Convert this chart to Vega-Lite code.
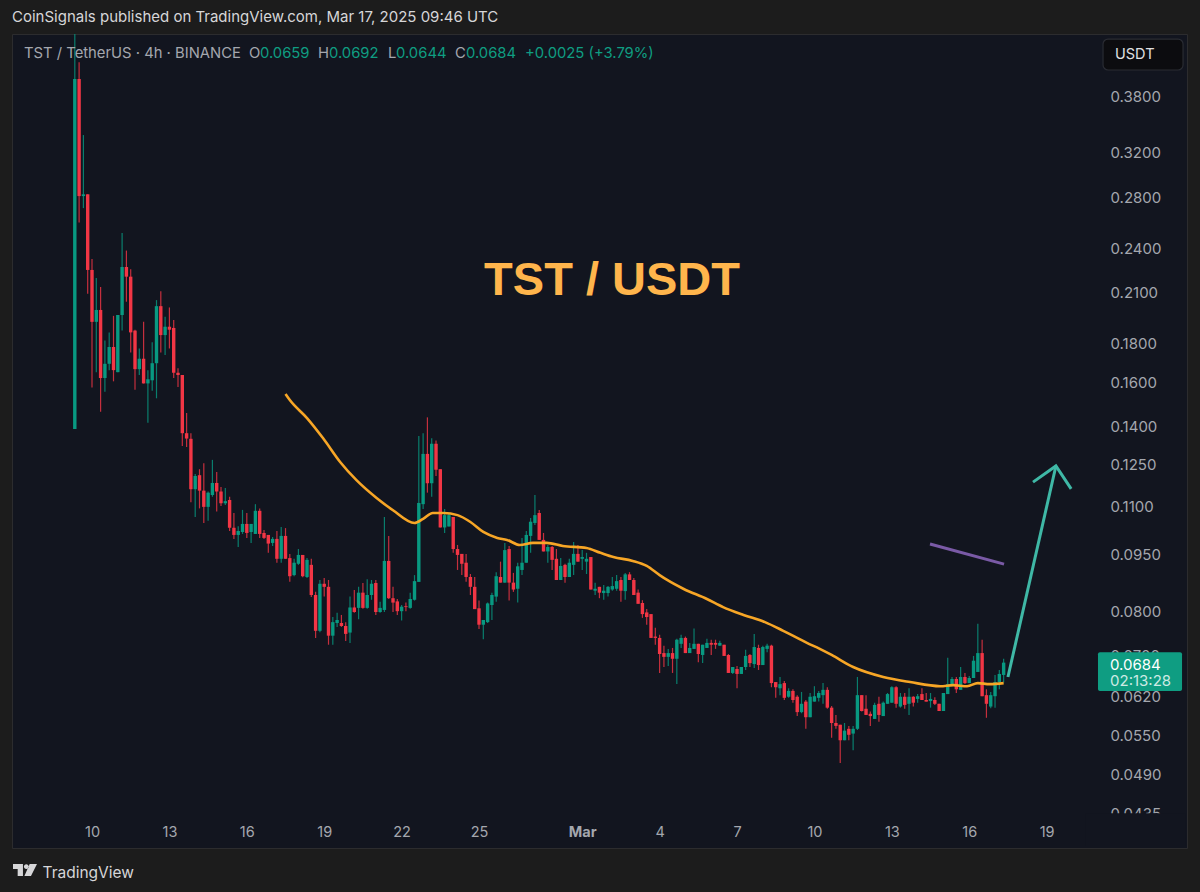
{
"$schema":"https://vega.github.io/schema/vega-lite/v6.json",
"width":1175,"height":814,
"autosize":{"type":"none"},
"padding":{"left":12,"top":34,"right":13,"bottom":44},
"background":"#1c1c1c",
"view":{"fill":"#12151f","stroke":"#2c2c2e"},
"config":{"font":"Inter"},
"title":{"text":"CoinSignals published on TradingView.com, Mar 17, 2025 09:46 UTC","anchor":"start","frame":"group","dx":0,"offset":8,"fontSize":15,"fontWeight":"normal","color":"#d6d6d8","font":"Inter"},
"datasets":{
"candles":[
{"t":"2025-02-09T08:00Z","o":0.1385,"h":0.4570,"l":0.1385,"c":0.3988},
{"t":"2025-02-09T12:00Z","o":0.3988,"h":0.4195,"l":0.2585,"c":0.2800},
{"t":"2025-02-09T16:00Z","o":0.2800,"h":0.3367,"l":0.2700,"c":0.2815},
{"t":"2025-02-09T20:00Z","o":0.2815,"h":0.2815,"l":0.2085,"c":0.2240},
{"t":"2025-02-10T00:00Z","o":0.2240,"h":0.2315,"l":0.1570,"c":0.1915},
{"t":"2025-02-10T04:00Z","o":0.1915,"h":0.2187,"l":0.1645,"c":0.1985},
{"t":"2025-02-10T08:00Z","o":0.1985,"h":0.2128,"l":0.1460,"c":0.1616},
{"t":"2025-02-10T12:00Z","o":0.1616,"h":0.1810,"l":0.1550,"c":0.1687},
{"t":"2025-02-10T16:00Z","o":0.1687,"h":0.1855,"l":0.1655,"c":0.1775},
{"t":"2025-02-10T20:00Z","o":0.1775,"h":0.1950,"l":0.1600,"c":0.1655},
{"t":"2025-02-11T00:00Z","o":0.1645,"h":0.1955,"l":0.1645,"c":0.1955},
{"t":"2025-02-11T04:00Z","o":0.1955,"h":0.2505,"l":0.1865,"c":0.2260},
{"t":"2025-02-11T08:00Z","o":0.2260,"h":0.2375,"l":0.2035,"c":0.2195},
{"t":"2025-02-11T12:00Z","o":0.2195,"h":0.2245,"l":0.1745,"c":0.1855},
{"t":"2025-02-11T16:00Z","o":0.1865,"h":0.1870,"l":0.1560,"c":0.1660},
{"t":"2025-02-11T20:00Z","o":0.1660,"h":0.1767,"l":0.1631,"c":0.1713},
{"t":"2025-02-12T00:00Z","o":0.1713,"h":0.1915,"l":0.1590,"c":0.1590},
{"t":"2025-02-12T04:00Z","o":0.1590,"h":0.1655,"l":0.1412,"c":0.1610},
{"t":"2025-02-12T08:00Z","o":0.1605,"h":0.1800,"l":0.1555,"c":0.1690},
{"t":"2025-02-12T12:00Z","o":0.1690,"h":0.2045,"l":0.1520,"c":0.2008},
{"t":"2025-02-12T16:00Z","o":0.2008,"h":0.2100,"l":0.1745,"c":0.1840},
{"t":"2025-02-12T20:00Z","o":0.1840,"h":0.1945,"l":0.1732,"c":0.1887},
{"t":"2025-02-13T00:00Z","o":0.1887,"h":0.2000,"l":0.1767,"c":0.1870},
{"t":"2025-02-13T04:00Z","o":0.1880,"h":0.1925,"l":0.1616,"c":0.1642},
{"t":"2025-02-13T08:00Z","o":0.1642,"h":0.1665,"l":0.1573,"c":0.1631},
{"t":"2025-02-13T12:00Z","o":0.1631,"h":0.1631,"l":0.1316,"c":0.1368},
{"t":"2025-02-13T16:00Z","o":0.1368,"h":0.1454,"l":0.1312,"c":0.1346},
{"t":"2025-02-13T20:00Z","o":0.1345,"h":0.1368,"l":0.1110,"c":0.1155},
{"t":"2025-02-14T00:00Z","o":0.1155,"h":0.1209,"l":0.1062,"c":0.1202},
{"t":"2025-02-14T04:00Z","o":0.1205,"h":0.1227,"l":0.1090,"c":0.1150},
{"t":"2025-02-14T08:00Z","o":0.1150,"h":0.1249,"l":0.1043,"c":0.1095},
{"t":"2025-02-14T12:00Z","o":0.1095,"h":0.1147,"l":0.1050,"c":0.1143},
{"t":"2025-02-14T16:00Z","o":0.1135,"h":0.1262,"l":0.1129,"c":0.1177},
{"t":"2025-02-14T20:00Z","o":0.1177,"h":0.1217,"l":0.1080,"c":0.1147},
{"t":"2025-02-15T00:00Z","o":0.1147,"h":0.1163,"l":0.1098,"c":0.1107},
{"t":"2025-02-15T04:00Z","o":0.1107,"h":0.1159,"l":0.1101,"c":0.1114},
{"t":"2025-02-15T08:00Z","o":0.1118,"h":0.1129,"l":0.1018,"c":0.1028},
{"t":"2025-02-15T12:00Z","o":0.1028,"h":0.1075,"l":0.0994,"c":0.1006},
{"t":"2025-02-15T16:00Z","o":0.1006,"h":0.1033,"l":0.0970,"c":0.1018},
{"t":"2025-02-15T20:00Z","o":0.1015,"h":0.1085,"l":0.1009,"c":0.1040},
{"t":"2025-02-16T00:00Z","o":0.1040,"h":0.1075,"l":0.0997,"c":0.1012},
{"t":"2025-02-16T04:00Z","o":0.1015,"h":0.1040,"l":0.0982,"c":0.1040},
{"t":"2025-02-16T08:00Z","o":0.1009,"h":0.1104,"l":0.1009,"c":0.1082},
{"t":"2025-02-16T12:00Z","o":0.1082,"h":0.1090,"l":0.0997,"c":0.1009},
{"t":"2025-02-16T16:00Z","o":0.1012,"h":0.1021,"l":0.0994,"c":0.0997},
{"t":"2025-02-16T20:00Z","o":0.1006,"h":0.1006,"l":0.0953,"c":0.0980},
{"t":"2025-02-17T00:00Z","o":0.0982,"h":0.1000,"l":0.0973,"c":0.0994},
{"t":"2025-02-17T04:00Z","o":0.0994,"h":0.1018,"l":0.0925,"c":0.0936},
{"t":"2025-02-17T08:00Z","o":0.0936,"h":0.1030,"l":0.0925,"c":0.1003},
{"t":"2025-02-17T12:00Z","o":0.1003,"h":0.1027,"l":0.0936,"c":0.0936},
{"t":"2025-02-17T16:00Z","o":0.0938,"h":0.0950,"l":0.0873,"c":0.0888},
{"t":"2025-02-17T20:00Z","o":0.0891,"h":0.0936,"l":0.0888,"c":0.0925},
{"t":"2025-02-18T00:00Z","o":0.0922,"h":0.0964,"l":0.0919,"c":0.0947},
{"t":"2025-02-18T04:00Z","o":0.0947,"h":0.0947,"l":0.0885,"c":0.0888},
{"t":"2025-02-18T08:00Z","o":0.0886,"h":0.0938,"l":0.0883,"c":0.0933},
{"t":"2025-02-18T12:00Z","o":0.0919,"h":0.0936,"l":0.0834,"c":0.0839},
{"t":"2025-02-18T16:00Z","o":0.0839,"h":0.0847,"l":0.0737,"c":0.0753},
{"t":"2025-02-18T20:00Z","o":0.0753,"h":0.0878,"l":0.0750,"c":0.0868},
{"t":"2025-02-19T00:00Z","o":0.0868,"h":0.0883,"l":0.0835,"c":0.0860},
{"t":"2025-02-19T04:00Z","o":0.0860,"h":0.0878,"l":0.0722,"c":0.0742},
{"t":"2025-02-19T08:00Z","o":0.0742,"h":0.0785,"l":0.0722,"c":0.0773},
{"t":"2025-02-19T12:00Z","o":0.0771,"h":0.0795,"l":0.0762,"c":0.0778},
{"t":"2025-02-19T16:00Z","o":0.0771,"h":0.0790,"l":0.0762,"c":0.0764},
{"t":"2025-02-19T20:00Z","o":0.0764,"h":0.0773,"l":0.0730,"c":0.0746},
{"t":"2025-02-20T00:00Z","o":0.0749,"h":0.0835,"l":0.0726,"c":0.0808},
{"t":"2025-02-20T04:00Z","o":0.0808,"h":0.0852,"l":0.0795,"c":0.0797},
{"t":"2025-02-20T08:00Z","o":0.0807,"h":0.0860,"l":0.0780,"c":0.0845},
{"t":"2025-02-20T12:00Z","o":0.0845,"h":0.0870,"l":0.0805,"c":0.0807},
{"t":"2025-02-20T16:00Z","o":0.0807,"h":0.0880,"l":0.0805,"c":0.0839},
{"t":"2025-02-20T20:00Z","o":0.0839,"h":0.0878,"l":0.0827,"c":0.0868},
{"t":"2025-02-21T00:00Z","o":0.0870,"h":0.0878,"l":0.0790,"c":0.0797},
{"t":"2025-02-21T04:00Z","o":0.0797,"h":0.0822,"l":0.0795,"c":0.0807},
{"t":"2025-02-21T08:00Z","o":0.0802,"h":0.1062,"l":0.0797,"c":0.0930},
{"t":"2025-02-21T12:00Z","o":0.0930,"h":0.1003,"l":0.0829,"c":0.0831},
{"t":"2025-02-21T16:00Z","o":0.0831,"h":0.0860,"l":0.0797,"c":0.0820},
{"t":"2025-02-21T20:00Z","o":0.0823,"h":0.0829,"l":0.0790,"c":0.0799},
{"t":"2025-02-22T00:00Z","o":0.0799,"h":0.0814,"l":0.0777,"c":0.0810},
{"t":"2025-02-22T04:00Z","o":0.0811,"h":0.0820,"l":0.0799,"c":0.0809},
{"t":"2025-02-22T08:00Z","o":0.0807,"h":0.0845,"l":0.0805,"c":0.0829},
{"t":"2025-02-22T12:00Z","o":0.0827,"h":0.0891,"l":0.0825,"c":0.0875},
{"t":"2025-02-22T16:00Z","o":0.0873,"h":0.1356,"l":0.0873,"c":0.1108},
{"t":"2025-02-22T20:00Z","o":0.1104,"h":0.1368,"l":0.1088,"c":0.1285},
{"t":"2025-02-23T00:00Z","o":0.1285,"h":0.1435,"l":0.1143,"c":0.1176},
{"t":"2025-02-23T04:00Z","o":0.1176,"h":0.1347,"l":0.1129,"c":0.1325},
{"t":"2025-02-23T08:00Z","o":0.1325,"h":0.1338,"l":0.1202,"c":0.1225},
{"t":"2025-02-23T12:00Z","o":0.1227,"h":0.1227,"l":0.1029,"c":0.1029},
{"t":"2025-02-23T16:00Z","o":0.1029,"h":0.1088,"l":0.1012,"c":0.1068},
{"t":"2025-02-23T20:00Z","o":0.1032,"h":0.1075,"l":0.1032,"c":0.1068},
{"t":"2025-02-24T00:00Z","o":0.1062,"h":0.1062,"l":0.0953,"c":0.0964},
{"t":"2025-02-24T04:00Z","o":0.0964,"h":0.0976,"l":0.0905,"c":0.0947},
{"t":"2025-02-24T08:00Z","o":0.0950,"h":0.0950,"l":0.0891,"c":0.0922},
{"t":"2025-02-24T12:00Z","o":0.0925,"h":0.0950,"l":0.0873,"c":0.0886},
{"t":"2025-02-24T16:00Z","o":0.0886,"h":0.0894,"l":0.0839,"c":0.0860},
{"t":"2025-02-24T20:00Z","o":0.0860,"h":0.0886,"l":0.0804,"c":0.0804},
{"t":"2025-02-25T00:00Z","o":0.0806,"h":0.0825,"l":0.0757,"c":0.0767},
{"t":"2025-02-25T04:00Z","o":0.0767,"h":0.0778,"l":0.0734,"c":0.0778},
{"t":"2025-02-25T08:00Z","o":0.0773,"h":0.0820,"l":0.0771,"c":0.0818},
{"t":"2025-02-25T12:00Z","o":0.0814,"h":0.0845,"l":0.0778,"c":0.0839},
{"t":"2025-02-25T16:00Z","o":0.0835,"h":0.0899,"l":0.0822,"c":0.0888},
{"t":"2025-02-25T20:00Z","o":0.0886,"h":0.0928,"l":0.0871,"c":0.0871},
{"t":"2025-02-26T00:00Z","o":0.0871,"h":0.0982,"l":0.0871,"c":0.0961},
{"t":"2025-02-26T04:00Z","o":0.0964,"h":0.0973,"l":0.0825,"c":0.0871},
{"t":"2025-02-26T08:00Z","o":0.0871,"h":0.0897,"l":0.0847,"c":0.0853},
{"t":"2025-02-26T12:00Z","o":0.0855,"h":0.0925,"l":0.0820,"c":0.0915},
{"t":"2025-02-26T16:00Z","o":0.0905,"h":0.0997,"l":0.0891,"c":0.0925},
{"t":"2025-02-26T20:00Z","o":0.0925,"h":0.1018,"l":0.0925,"c":0.1006},
{"t":"2025-02-27T00:00Z","o":0.1003,"h":0.1059,"l":0.0953,"c":0.1047},
{"t":"2025-02-27T04:00Z","o":0.1043,"h":0.1135,"l":0.1037,"c":0.1068},
{"t":"2025-02-27T08:00Z","o":0.1075,"h":0.1085,"l":0.0991,"c":0.0991},
{"t":"2025-02-27T12:00Z","o":0.0991,"h":0.1012,"l":0.0957,"c":0.0957},
{"t":"2025-02-27T16:00Z","o":0.0957,"h":0.0976,"l":0.0925,"c":0.0970},
{"t":"2025-02-27T20:00Z","o":0.0970,"h":0.0973,"l":0.0905,"c":0.0933},
{"t":"2025-02-28T00:00Z","o":0.0936,"h":0.0964,"l":0.0878,"c":0.0878},
{"t":"2025-02-28T04:00Z","o":0.0878,"h":0.0938,"l":0.0878,"c":0.0916},
{"t":"2025-02-28T08:00Z","o":0.0919,"h":0.0922,"l":0.0871,"c":0.0886},
{"t":"2025-02-28T12:00Z","o":0.0886,"h":0.0936,"l":0.0886,"c":0.0925},
{"t":"2025-02-28T16:00Z","o":0.0919,"h":0.0985,"l":0.0891,"c":0.0950},
{"t":"2025-02-28T20:00Z","o":0.0950,"h":0.0976,"l":0.0928,"c":0.0928},
{"t":"2025-03-01T00:00Z","o":0.0936,"h":0.0961,"l":0.0905,"c":0.0941},
{"t":"2025-03-01T04:00Z","o":0.0928,"h":0.0953,"l":0.0894,"c":0.0936},
{"t":"2025-03-01T08:00Z","o":0.0941,"h":0.0941,"l":0.0853,"c":0.0853},
{"t":"2025-03-01T12:00Z","o":0.0850,"h":0.0871,"l":0.0839,"c":0.0855},
{"t":"2025-03-01T16:00Z","o":0.0860,"h":0.0860,"l":0.0831,"c":0.0845},
{"t":"2025-03-01T20:00Z","o":0.0844,"h":0.0865,"l":0.0827,"c":0.0850},
{"t":"2025-03-02T00:00Z","o":0.0844,"h":0.0862,"l":0.0835,"c":0.0860},
{"t":"2025-03-02T04:00Z","o":0.0853,"h":0.0886,"l":0.0850,"c":0.0862},
{"t":"2025-03-02T08:00Z","o":0.0855,"h":0.0891,"l":0.0850,"c":0.0875},
{"t":"2025-03-02T12:00Z","o":0.0878,"h":0.0886,"l":0.0822,"c":0.0850},
{"t":"2025-03-02T16:00Z","o":0.0849,"h":0.0897,"l":0.0827,"c":0.0893},
{"t":"2025-03-02T20:00Z","o":0.0893,"h":0.0899,"l":0.0878,"c":0.0878},
{"t":"2025-03-03T00:00Z","o":0.0878,"h":0.0883,"l":0.0839,"c":0.0839},
{"t":"2025-03-03T04:00Z","o":0.0845,"h":0.0853,"l":0.0817,"c":0.0817},
{"t":"2025-03-03T08:00Z","o":0.0819,"h":0.0826,"l":0.0783,"c":0.0792},
{"t":"2025-03-03T12:00Z","o":0.0796,"h":0.0804,"l":0.0767,"c":0.0785},
{"t":"2025-03-03T16:00Z","o":0.0792,"h":0.0792,"l":0.0737,"c":0.0737},
{"t":"2025-03-03T20:00Z","o":0.0740,"h":0.0760,"l":0.0722,"c":0.0737},
{"t":"2025-03-04T00:00Z","o":0.0737,"h":0.0744,"l":0.0663,"c":0.0702},
{"t":"2025-03-04T04:00Z","o":0.0704,"h":0.0720,"l":0.0675,"c":0.0696},
{"t":"2025-03-04T08:00Z","o":0.0696,"h":0.0713,"l":0.0677,"c":0.0704},
{"t":"2025-03-04T12:00Z","o":0.0704,"h":0.0715,"l":0.0663,"c":0.0692},
{"t":"2025-03-04T16:00Z","o":0.0692,"h":0.0735,"l":0.0641,"c":0.0733},
{"t":"2025-03-04T20:00Z","o":0.0724,"h":0.0744,"l":0.0715,"c":0.0737},
{"t":"2025-03-05T00:00Z","o":0.0737,"h":0.0740,"l":0.0704,"c":0.0704},
{"t":"2025-03-05T04:00Z","o":0.0704,"h":0.0726,"l":0.0704,"c":0.0715},
{"t":"2025-03-05T08:00Z","o":0.0713,"h":0.0758,"l":0.0713,"c":0.0724},
{"t":"2025-03-05T12:00Z","o":0.0724,"h":0.0724,"l":0.0685,"c":0.0702},
{"t":"2025-03-05T16:00Z","o":0.0700,"h":0.0722,"l":0.0683,"c":0.0722},
{"t":"2025-03-05T20:00Z","o":0.0715,"h":0.0735,"l":0.0715,"c":0.0726},
{"t":"2025-03-06T00:00Z","o":0.0726,"h":0.0733,"l":0.0700,"c":0.0722},
{"t":"2025-03-06T04:00Z","o":0.0726,"h":0.0733,"l":0.0713,"c":0.0722},
{"t":"2025-03-06T08:00Z","o":0.0720,"h":0.0731,"l":0.0720,"c":0.0726},
{"t":"2025-03-06T12:00Z","o":0.0722,"h":0.0722,"l":0.0698,"c":0.0698},
{"t":"2025-03-06T16:00Z","o":0.0700,"h":0.0702,"l":0.0663,"c":0.0663},
{"t":"2025-03-06T20:00Z","o":0.0663,"h":0.0675,"l":0.0661,"c":0.0675},
{"t":"2025-03-07T00:00Z","o":0.0671,"h":0.0677,"l":0.0633,"c":0.0661},
{"t":"2025-03-07T04:00Z","o":0.0661,"h":0.0675,"l":0.0661,"c":0.0675},
{"t":"2025-03-07T08:00Z","o":0.0675,"h":0.0711,"l":0.0669,"c":0.0698},
{"t":"2025-03-07T12:00Z","o":0.0700,"h":0.0702,"l":0.0675,"c":0.0683},
{"t":"2025-03-07T16:00Z","o":0.0681,"h":0.0746,"l":0.0673,"c":0.0717},
{"t":"2025-03-07T20:00Z","o":0.0715,"h":0.0722,"l":0.0669,"c":0.0679},
{"t":"2025-03-08T00:00Z","o":0.0679,"h":0.0720,"l":0.0679,"c":0.0717},
{"t":"2025-03-08T04:00Z","o":0.0713,"h":0.0724,"l":0.0706,"c":0.0720},
{"t":"2025-03-08T08:00Z","o":0.0720,"h":0.0722,"l":0.0635,"c":0.0643},
{"t":"2025-03-08T12:00Z","o":0.0645,"h":0.0645,"l":0.0615,"c":0.0635},
{"t":"2025-03-08T16:00Z","o":0.0633,"h":0.0655,"l":0.0620,"c":0.0641},
{"t":"2025-03-08T20:00Z","o":0.0643,"h":0.0647,"l":0.0611,"c":0.0615},
{"t":"2025-03-09T00:00Z","o":0.0617,"h":0.0633,"l":0.0615,"c":0.0628},
{"t":"2025-03-09T04:00Z","o":0.0628,"h":0.0631,"l":0.0606,"c":0.0611},
{"t":"2025-03-09T08:00Z","o":0.0617,"h":0.0620,"l":0.0582,"c":0.0589},
{"t":"2025-03-09T12:00Z","o":0.0589,"h":0.0626,"l":0.0587,"c":0.0604},
{"t":"2025-03-09T16:00Z","o":0.0608,"h":0.0611,"l":0.0560,"c":0.0580},
{"t":"2025-03-09T20:00Z","o":0.0580,"h":0.0624,"l":0.0580,"c":0.0617},
{"t":"2025-03-10T00:00Z","o":0.0608,"h":0.0637,"l":0.0608,"c":0.0618},
{"t":"2025-03-10T04:00Z","o":0.0615,"h":0.0628,"l":0.0608,"c":0.0624},
{"t":"2025-03-10T08:00Z","o":0.0620,"h":0.0643,"l":0.0604,"c":0.0630},
{"t":"2025-03-10T12:00Z","o":0.0630,"h":0.0635,"l":0.0595,"c":0.0597},
{"t":"2025-03-10T16:00Z","o":0.0597,"h":0.0600,"l":0.0545,"c":0.0570},
{"t":"2025-03-10T20:00Z","o":0.0570,"h":0.0584,"l":0.0560,"c":0.0565},
{"t":"2025-03-11T00:00Z","o":0.0567,"h":0.0567,"l":0.0505,"c":0.0541},
{"t":"2025-03-11T04:00Z","o":0.0541,"h":0.0570,"l":0.0541,"c":0.0557},
{"t":"2025-03-11T08:00Z","o":0.0560,"h":0.0565,"l":0.0541,"c":0.0550},
{"t":"2025-03-11T12:00Z","o":0.0552,"h":0.0565,"l":0.0525,"c":0.0560},
{"t":"2025-03-11T16:00Z","o":0.0560,"h":0.0655,"l":0.0558,"c":0.0620},
{"t":"2025-03-11T20:00Z","o":0.0620,"h":0.0620,"l":0.0590,"c":0.0591},
{"t":"2025-03-12T00:00Z","o":0.0595,"h":0.0620,"l":0.0584,"c":0.0584},
{"t":"2025-03-12T04:00Z","o":0.0586,"h":0.0590,"l":0.0565,"c":0.0582},
{"t":"2025-03-12T08:00Z","o":0.0577,"h":0.0606,"l":0.0577,"c":0.0602},
{"t":"2025-03-12T12:00Z","o":0.0604,"h":0.0617,"l":0.0572,"c":0.0584},
{"t":"2025-03-12T16:00Z","o":0.0582,"h":0.0608,"l":0.0582,"c":0.0606},
{"t":"2025-03-12T20:00Z","o":0.0604,"h":0.0624,"l":0.0604,"c":0.0622},
{"t":"2025-03-13T00:00Z","o":0.0606,"h":0.0637,"l":0.0606,"c":0.0635},
{"t":"2025-03-13T04:00Z","o":0.0635,"h":0.0637,"l":0.0597,"c":0.0604},
{"t":"2025-03-13T08:00Z","o":0.0599,"h":0.0624,"l":0.0597,"c":0.0617},
{"t":"2025-03-13T12:00Z","o":0.0617,"h":0.0624,"l":0.0595,"c":0.0602},
{"t":"2025-03-13T16:00Z","o":0.0604,"h":0.0633,"l":0.0584,"c":0.0617},
{"t":"2025-03-13T20:00Z","o":0.0617,"h":0.0618,"l":0.0599,"c":0.0606},
{"t":"2025-03-14T00:00Z","o":0.0613,"h":0.0622,"l":0.0606,"c":0.0618},
{"t":"2025-03-14T04:00Z","o":0.0622,"h":0.0633,"l":0.0611,"c":0.0611},
{"t":"2025-03-14T08:00Z","o":0.0611,"h":0.0624,"l":0.0608,"c":0.0608},
{"t":"2025-03-14T12:00Z","o":0.0609,"h":0.0624,"l":0.0597,"c":0.0613},
{"t":"2025-03-14T16:00Z","o":0.0611,"h":0.0616,"l":0.0602,"c":0.0604},
{"t":"2025-03-14T20:00Z","o":0.0604,"h":0.0604,"l":0.0591,"c":0.0591},
{"t":"2025-03-15T00:00Z","o":0.0591,"h":0.0624,"l":0.0591,"c":0.0624},
{"t":"2025-03-15T04:00Z","o":0.0622,"h":0.0694,"l":0.0622,"c":0.0641},
{"t":"2025-03-15T08:00Z","o":0.0639,"h":0.0655,"l":0.0637,"c":0.0651},
{"t":"2025-03-15T12:00Z","o":0.0651,"h":0.0655,"l":0.0624,"c":0.0631},
{"t":"2025-03-15T16:00Z","o":0.0630,"h":0.0675,"l":0.0630,"c":0.0655},
{"t":"2025-03-15T20:00Z","o":0.0655,"h":0.0663,"l":0.0641,"c":0.0643},
{"t":"2025-03-16T00:00Z","o":0.0643,"h":0.0657,"l":0.0643,"c":0.0653},
{"t":"2025-03-16T04:00Z","o":0.0653,"h":0.0698,"l":0.0653,"c":0.0688},
{"t":"2025-03-16T08:00Z","o":0.0665,"h":0.0769,"l":0.0665,"c":0.0704},
{"t":"2025-03-16T12:00Z","o":0.0704,"h":0.0733,"l":0.0618,"c":0.0618},
{"t":"2025-03-16T16:00Z","o":0.0620,"h":0.0631,"l":0.0579,"c":0.0604},
{"t":"2025-03-16T20:00Z","o":0.0599,"h":0.0626,"l":0.0596,"c":0.0620},
{"t":"2025-03-17T00:00Z","o":0.0618,"h":0.0659,"l":0.0597,"c":0.0645},
{"t":"2025-03-17T04:00Z","o":0.0645,"h":0.0669,"l":0.0631,"c":0.0661},
{"t":"2025-03-17T08:00Z","o":0.0659,"h":0.0692,"l":0.0644,"c":0.0684}
],
"ma":[
{"t":"2025-02-17T12:00Z","p":0.1540},{"t":"2025-02-17T16:00Z","p":0.1512},{"t":"2025-02-18T08:00Z","p":0.1432},{"t":"2025-02-18T23:00Z","p":0.1347},
{"t":"2025-02-19T15:00Z","p":0.1253},{"t":"2025-02-20T06:00Z","p":0.1187},{"t":"2025-02-21T01:00Z","p":0.1124},{"t":"2025-02-21T16:00Z","p":0.1084},
{"t":"2025-02-22T12:00Z","p":0.1043},{"t":"2025-02-22T20:00Z","p":0.1056},{"t":"2025-02-23T05:00Z","p":0.1075},{"t":"2025-02-23T15:00Z","p":0.1075},
{"t":"2025-02-24T04:00Z","p":0.1068},{"t":"2025-02-24T16:00Z","p":0.1046},{"t":"2025-02-25T04:00Z","p":0.1015},{"t":"2025-02-25T17:00Z","p":0.0997},
{"t":"2025-02-26T02:00Z","p":0.0991},{"t":"2025-02-26T14:00Z","p":0.0976},{"t":"2025-02-27T02:00Z","p":0.0982},{"t":"2025-02-27T15:00Z","p":0.0982},
{"t":"2025-02-28T06:00Z","p":0.0973},{"t":"2025-03-01T04:00Z","p":0.0967},{"t":"2025-03-01T17:00Z","p":0.0953},{"t":"2025-03-02T05:00Z","p":0.0941},
{"t":"2025-03-02T23:00Z","p":0.0930},{"t":"2025-03-03T12:00Z","p":0.0916},{"t":"2025-03-04T00:00Z","p":0.0891},{"t":"2025-03-04T07:00Z","p":0.0878},
{"t":"2025-03-04T22:00Z","p":0.0855},{"t":"2025-03-05T20:00Z","p":0.0829},{"t":"2025-03-06T11:00Z","p":0.0809},{"t":"2025-03-07T06:00Z","p":0.0790},
{"t":"2025-03-08T02:00Z","p":0.0773},{"t":"2025-03-08T19:00Z","p":0.0753},{"t":"2025-03-09T17:00Z","p":0.0726},{"t":"2025-03-10T05:00Z","p":0.0713},
{"t":"2025-03-10T16:00Z","p":0.0700},{"t":"2025-03-11T12:00Z","p":0.0675},{"t":"2025-03-12T16:00Z","p":0.0655},{"t":"2025-03-13T17:00Z","p":0.0645},
{"t":"2025-03-14T21:00Z","p":0.0637},{"t":"2025-03-15T09:00Z","p":0.0639},{"t":"2025-03-15T22:00Z","p":0.0637},{"t":"2025-03-16T08:00Z","p":0.0643},
{"t":"2025-03-16T19:00Z","p":0.0641},{"t":"2025-03-17T08:00Z","p":0.0643}
]
},
"encoding":{
"x":{"field":"t","type":"temporal","title":"TradingView",
 "scale":{"type":"utc","domain":["2025-02-06T21:35:00Z","2025-03-24T10:34:00Z"],"nice":false},
 "axis":{"orient":"bottom","offset":-16,"zindex":1,"grid":false,"domain":false,"ticks":false,"labelPadding":0,"labelBaseline":"middle","labelFontSize":14.5,"labelColor":"#a4a7ae","labelOverlap":false,"labelFont":"Inter",
  "values":[{"year":2025,"month":2,"date":10,"utc":true},{"year":2025,"month":2,"date":13,"utc":true},{"year":2025,"month":2,"date":16,"utc":true},{"year":2025,"month":2,"date":19,"utc":true},{"year":2025,"month":2,"date":22,"utc":true},{"year":2025,"month":2,"date":25,"utc":true},{"year":2025,"month":3,"date":1,"utc":true},{"year":2025,"month":3,"date":4,"utc":true},{"year":2025,"month":3,"date":7,"utc":true},{"year":2025,"month":3,"date":10,"utc":true},{"year":2025,"month":3,"date":13,"utc":true},{"year":2025,"month":3,"date":16,"utc":true},{"year":2025,"month":3,"date":19,"utc":true}],
  "labelExpr":"utcdate(datum.value)==1?'Mar':''+utcdate(datum.value)",
  "labelFontWeight":{"condition":{"test":"utcdate(datum.value)==1","value":"bold"},"value":"normal"},
  "titleX":30,"titleY":45,"titleAlign":"left","titleBaseline":"alphabetic","titleAnchor":null,"titleFontSize":15.5,"titleFontWeight":"normal","titleColor":"#d6d6d8","titleFont":"Inter"}},
"y":{"field":"p","type":"quantitative","title":null,
 "scale":{"type":"log","domain":[0.03907,0.4569],"nice":false},
 "axis":{"orient":"right","offset":-77,"zindex":0,"grid":false,"domain":false,"ticks":false,"labelPadding":0,"labelOffset":1,"labelAlign":"left","labelFontSize":15,"labelColor":"#a4a7ae","labelFont":"Inter","format":".4f","labelOverlap":false,
  "values":[0.38,0.32,0.28,0.24,0.21,0.18,0.16,0.14,0.125,0.11,0.095,0.08,0.07,0.062,0.055,0.049,0.0435]}}
},
"layer":[
{"data":{"values":[{"t":"2025-03-20T12:00Z","t2":"2025-03-24T09:00Z","p":0.0434,"p2":0.0393}],"format":{"parse":{"t":"date","t2":"date"}}},
 "mark":{"type":"rect","fill":"#12151f"},
 "encoding":{"x2":{"field":"t2"},"y2":{"field":"p2"}}},
{"data":{"values":[{"t":"2025-03-21T04:28Z","t2":"2025-03-24T06:53Z","p":0.4098,"p2":0.45}],"format":{"parse":{"t":"date","t2":"date"}}},
 "mark":{"type":"rect","fill":"#0c0c0f","stroke":"#2a2c33","strokeWidth":1.2,"cornerRadius":5},
 "encoding":{"x2":{"field":"t2"},"y2":{"field":"p2"}}},
{"data":{"name":"candles"},
 "mark":{"type":"rule","strokeWidth":1.2,"opacity":0.8},
 "encoding":{"y":{"field":"l"},"y2":{"field":"h"},
  "color":{"condition":{"test":"datum.c>=datum.o","value":"#089981"},"value":"#f23645"}}},
{"data":{"name":"candles"},
 "mark":{"type":"rule","strokeWidth":3.4},
 "encoding":{"y":{"field":"o"},"y2":{"field":"c"},
  "color":{"condition":{"test":"datum.c>=datum.o","value":"#089981"},"value":"#f23645"}}},
{"data":{"name":"ma"},
 "mark":{"type":"line","color":"#f7a626","strokeWidth":2.6,"interpolate":"monotone"}},
{"data":{"values":[{"t":"2025-03-14T11:31Z","p":0.0979},{"t":"2025-03-17T08:23Z","p":0.0921}]},
 "mark":{"type":"line","color":"#7a5aa6","strokeWidth":3}},
{"data":{"values":[{"g":"shaft","n":1,"t":"2025-03-17T12:00Z","p":0.0655},{"g":"shaft","n":2,"t":"2025-03-19T08:38Z","p":0.1239},{"g":"head","n":1,"t":"2025-03-18T11:19Z","p":0.1180},{"g":"head","n":2,"t":"2025-03-19T08:38Z","p":0.1239},{"g":"head","n":3,"t":"2025-03-19T22:48Z","p":0.1156}]},
 "mark":{"type":"line","color":"#3fb8a6","strokeWidth":3},
 "encoding":{"detail":{"field":"g"},"order":{"field":"n"}}},
{"data":{"values":[{"t":"2025-03-20T23:46Z","t2":"2025-03-24T05:57Z","p":0.0706,"p2":0.06277}],"format":{"parse":{"t":"date","t2":"date"}}},
 "mark":{"type":"rect","fill":"#0f9d82","cornerRadius":2},
 "encoding":{"x2":{"field":"t2"},"y2":{"field":"p2"}}},
{"data":{"values":[{"t":"2025-03-21T10:58Z","p":0.0680,"label":"0.0684","kind":"a"},{"t":"2025-03-21T10:58Z","p":0.0647,"label":"02:13:28","kind":"b"}]},
 "mark":{"type":"text","align":"left","baseline":"middle","fontSize":15,"font":"Inter"},
 "encoding":{"text":{"field":"label"},"color":{"field":"kind","type":"nominal","legend":null,"scale":{"domain":["a","b","muted","up"],"range":["#ffffff","#cdeae4","#a4a7ae","#0f9d82"]}}}},
{"data":{"values":[
 {"t":"2025-02-07T08:44Z","p":0.4300,"label":"TST / TetherUS · 4h · BINANCE","kind":"muted"},
 {"t":"2025-02-16T02:02Z","p":0.4300,"label":"O","kind":"muted"},
 {"t":"2025-02-16T12:17Z","p":0.4300,"label":"0.0659","kind":"up"},
 {"t":"2025-02-18T18:14Z","p":0.4300,"label":"H","kind":"muted"},
 {"t":"2025-02-19T04:28Z","p":0.4300,"label":"0.0692","kind":"up"},
 {"t":"2025-02-21T11:21Z","p":0.4300,"label":"L","kind":"muted"},
 {"t":"2025-02-21T18:48Z","p":0.4300,"label":"0.0644","kind":"up"},
 {"t":"2025-02-24T01:41Z","p":0.4300,"label":"C","kind":"muted"},
 {"t":"2025-02-24T11:54Z","p":0.4300,"label":"0.0684","kind":"up"},
 {"t":"2025-02-26T18:48Z","p":0.4300,"label":"+0.0025 (+3.79%)","kind":"up"}]},
 "mark":{"type":"text","align":"left","baseline":"middle","fontSize":14.8,"font":"Inter"},
 "encoding":{"text":{"field":"label"},"color":{"field":"kind","type":"nominal","legend":null}}},
{"data":{"values":[{"t":"2025-03-02T03:43Z","p":0.2166,"label":"TST / USDT"}]},
 "mark":{"type":"text","align":"center","baseline":"middle","fontSize":47,"fontWeight":"bold","font":"Liberation Sans","color":"#ffb54c"},
 "encoding":{"text":{"field":"label"}}},
{"data":{"values":[{"t":"2025-03-21T15:37Z","p":0.4290,"label":"USDT"}]},
 "mark":{"type":"text","align":"left","baseline":"middle","fontSize":14.5,"font":"Inter","color":"#e0e0e2"},
 "encoding":{"text":{"field":"label"}}},
{"data":{"values":[{"t":"2025-02-07T09:40Z","p":0.03656}]},
 "mark":{"type":"point","filled":true,"color":"#d6d6d8","opacity":1,"size":576,"shape":"M-1,-.5 H-.17 V.5 H-.61 V-.08 H-1 Z M-.09,-.28 a.2,.2 0 1 0 .4,0 a.2,.2 0 1 0 -.4,0 Z M.39,-.5 H1 L.5,.5 H-.05 Z"}}
]
}
